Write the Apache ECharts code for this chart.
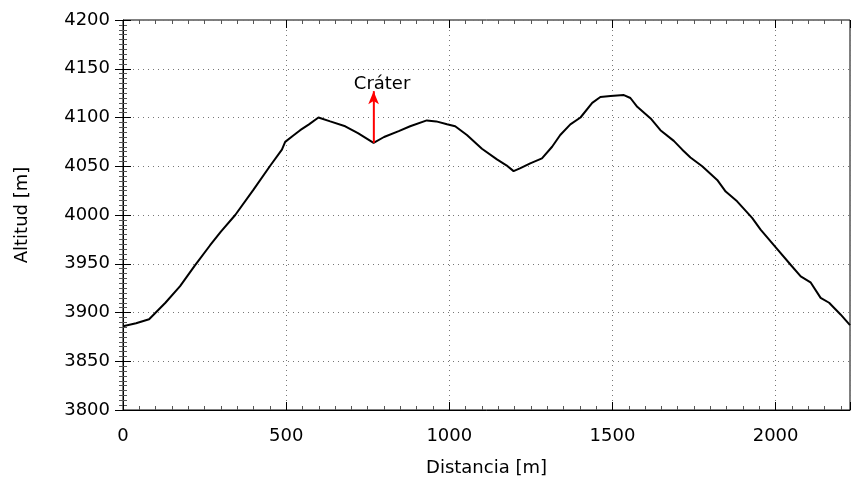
<!DOCTYPE html>
<html><head><meta charset="utf-8">
<script src="https://cdn.jsdelivr.net/npm/echarts@6/dist/echarts.min.js"></script>
<style>html,body{margin:0;padding:0;background:#fff}#c{width:851px;height:482px}</style>
</head><body><div id="c"></div>
<script>
const dist = [0, 40, 80, 130, 175, 220, 267, 300, 344, 400, 450, 487, 497, 520, 543, 570, 599, 635, 681, 720, 768, 800, 845, 880, 931, 960, 993, 1018, 1054, 1100, 1146, 1175, 1197, 1218, 1248, 1284, 1315, 1340, 1371, 1402, 1438, 1463, 1494, 1535, 1555, 1576, 1617, 1647, 1688, 1714, 1739, 1775, 1821, 1847, 1882, 1928, 1954, 2005, 2046, 2077, 2107, 2138, 2164, 2199, 2228];
const alt = [3886, 3889, 3893, 3910, 3927, 3948, 3969, 3983, 4000, 4026, 4050, 4067, 4075, 4081, 4087, 4093, 4100, 4096, 4091, 4084, 4074, 4080, 4086, 4091, 4097, 4096, 4093, 4091, 4082, 4068, 4057, 4051, 4045, 4048, 4053, 4058, 4070, 4082, 4093, 4100, 4115, 4121, 4122, 4123, 4120, 4111, 4099, 4087, 4076, 4067, 4059, 4050, 4036, 4024, 4014, 3997, 3985, 3965, 3949, 3937, 3931, 3915, 3910, 3898, 3887];
const craterDist = 768;
const craterAlt = [4074, 4127];
const craterLabel = 'Cráter';
const craterLabelPos = [794, 4135];
const xTitle = 'Distancia [m]';
const yTitle = 'Altitud [m]';
const xRange = [0, 2228];
const yRange = [3800, 4200];

const font = 'DejaVu Sans';
const chart = echarts.init(document.getElementById('c'), null, {renderer: 'canvas'});
const tickStyle = {show: true, inside: true, length: 8, lineStyle: {color: '#000', width: 1}};
const minorStyle = {show: true, splitNumber: 10, length: 4, lineStyle: {color: '#555', width: 1}};
chart.setOption({
  animation: false,
  grid: {left: 123, right: 1, top: 20, bottom: 71, show: true, borderColor: '#000', borderWidth: 1},
  xAxis: [{
    type: 'value', min: xRange[0], max: xRange[1], interval: 500,
    name: xTitle, nameLocation: 'middle', nameGap: 49,
    nameTextStyle: {fontFamily: font, fontSize: 18, color: '#000'},
    axisLine: {lineStyle: {color: '#000'}},
    axisTick: tickStyle, minorTick: minorStyle,
    axisLabel: {fontFamily: font, fontSize: 18, color: '#000', margin: 17, showMaxLabel: false,
      formatter: v => (v % 500 === 0 ? String(v) : '')},
    splitLine: {show: true, lineStyle: {color: '#777', type: [1, 4], width: 1}}
  }, {
    type: 'value', min: xRange[0], max: xRange[1], interval: 500, position: 'top',
    axisLine: {show: false}, axisTick: tickStyle, minorTick: minorStyle,
    axisLabel: {show: false}, splitLine: {show: false}
  }],
  yAxis: [{
    type: 'value', min: yRange[0], max: yRange[1], interval: 50,
    name: yTitle, nameLocation: 'middle', nameGap: 92, nameRotate: 90,
    nameTextStyle: {fontFamily: font, fontSize: 18, color: '#000'},
    axisLine: {lineStyle: {color: '#000'}},
    axisTick: tickStyle, minorTick: minorStyle,
    axisLabel: {fontFamily: font, fontSize: 18, color: '#000', margin: 13, formatter: v => String(v)},
    splitLine: {show: true, lineStyle: {color: '#777', type: [1, 4], width: 1}}
  }, {
    type: 'value', min: yRange[0], max: yRange[1], interval: 50, position: 'right',
    axisLine: {show: false}, axisTick: tickStyle, minorTick: minorStyle,
    axisLabel: {show: false}, splitLine: {show: false}
  }],
  series: [{
    type: 'line', data: dist.map((d, i) => [d, alt[i]]), showSymbol: false,
    lineStyle: {color: '#000', width: 2}, z: 3
  }, {
    type: 'line', data: [[craterDist, craterAlt[0]], [craterDist, craterAlt[1]]],
    showSymbol: false, lineStyle: {color: '#ff0000', width: 1.5}, z: 4,
    markLine: {silent: true, symbol: ['none', 'arrow'], symbolSize: [8, 13], label: {show: false},
      lineStyle: {color: '#ff0000', width: 1.5, type: 'solid'},
      data: [[{coord: [craterDist, craterAlt[0]]}, {coord: [craterDist, craterAlt[1]]}]]}
  }, {
    type: 'scatter', symbolSize: 1, itemStyle: {opacity: 0}, data: [craterLabelPos],
    label: {show: true, position: 'top', distance: -10, formatter: craterLabel,
      fontFamily: font, fontSize: 18, color: '#000', opacity: 1}
  }]
});
</script></body></html>
